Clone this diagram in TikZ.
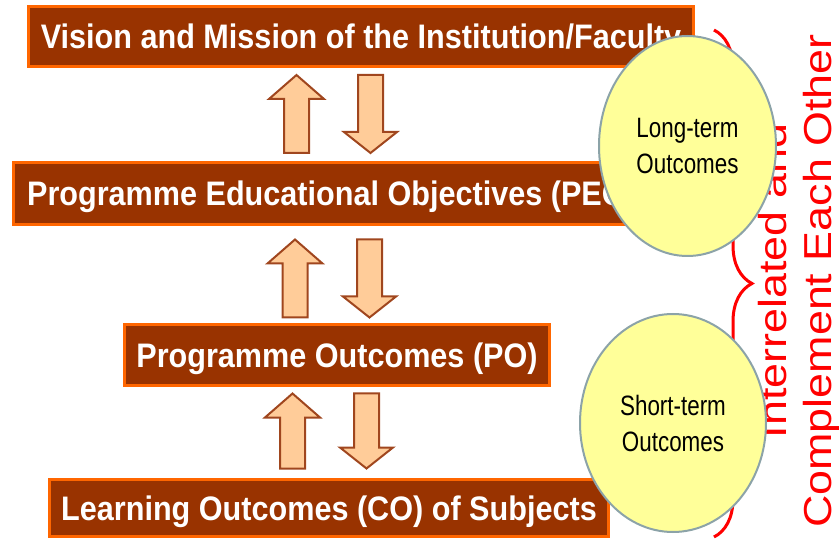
\documentclass[tikz,border=0pt]{standalone}
\usepackage{fontspec}
\setmainfont{Liberation Sans}
\newfontfamily\boxfont[FakeStretch=0.9]{Liberation Sans}
\newfontfamily\ovalfont[FakeStretch=0.8]{Liberation Sans}
\newfontfamily\sidefont[FakeStretch=1.15]{Liberation Sans}
\usepackage{tikz}
\usetikzlibrary{shapes.geometric}
\usetikzlibrary{decorations.pathreplacing}
\definecolor{boxfill}{HTML}{993300}
\definecolor{boxline}{HTML}{FF6600}
\definecolor{arrowfill}{HTML}{FFCC99}
\definecolor{arrowline}{HTML}{A0461E}
\definecolor{ovalfill}{HTML}{FFFF99}
\definecolor{ovalline}{HTML}{8CA3A8}
\tikzset{my_box/.style={rectangle, fill=boxfill, draw=boxline, line width=3pt, text=white, inner sep=0pt, text height=24.5pt, text depth=0pt, font=\boxfont\bfseries\fontsize{34}{40}\selectfont}}
\tikzset{my_oval/.style={ellipse, fill=ovalfill, draw=ovalline, line width=2pt, inner sep=0pt, align=center, font=\ovalfont\fontsize{28}{36}\selectfont}}
\tikzset{my_block/.style={fill=arrowfill, draw=arrowline, line width=2pt, line join=miter}}
\tikzset{my_brace/.style={draw=red, line width=3pt, decorate, decoration={brace, amplitude=38pt}}}
\tikzset{my_note/.style={text=red, rotate=90, align=center, inner sep=0pt, font=\sidefont\fontsize{39}{45}\selectfont}}
\newcommand{\liftarrow}[2]{\draw[my_block] ([xshift=-12.5pt]#1) -- ([xshift=-12.5pt,yshift=-24pt]#2) -- ([xshift=-27.5pt,yshift=-24pt]#2) -- (#2) -- ([xshift=27.5pt,yshift=-24pt]#2) -- ([xshift=12.5pt,yshift=-24pt]#2) -- ([xshift=12.5pt]#1) -- cycle;}
\newcommand{\droparrow}[2]{\draw[my_block] ([xshift=-12.5pt]#1) -- ([xshift=-12.5pt,yshift=21pt]#2) -- ([xshift=-26.5pt,yshift=21pt]#2) -- (#2) -- ([xshift=26.5pt,yshift=21pt]#2) -- ([xshift=12.5pt,yshift=21pt]#2) -- ([xshift=12.5pt]#1) -- cycle;}

\begin{document}
\begin{tikzpicture}[x=1pt,y=-1pt]
    %\draw[help lines,step=20] (0,0) grid (839,540);
    \useasboundingbox (0,0) rectangle (839,540);
    \node[my_box, minimum width=665pt, minimum height=60pt] (vm) at (361,36.5) {Vision and Mission of the Institution/Faculty};
    \node[my_box, minimum width=636pt, minimum height=62pt] (peo) at (331.5,193.5) {Programme Educational Objectives (PEO)};
    \node[my_box, minimum width=425pt, minimum height=61pt] (po) at (337,355) {Programme Outcomes (PO)};
    \node[my_box, minimum width=559pt, minimum height=57pt] (lo) at (329,508) {Learning Outcomes (CO) of Subjects};

    % arrow columns
    \coordinate (upA) at (296.5,0);
    \coordinate (dnA) at (370.5,0);
    \coordinate (upB) at (295,0);
    \coordinate (dnB) at (369.5,0);
    \coordinate (upC) at (292.5,0);
    \coordinate (dnC) at (366.5,0);

    \path (peo.north -| upA) ++(0,-8) coordinate (ua1)
          (vm.south -| upA) ++(0,7) coordinate (ua2)
          (vm.south -| dnA) ++(0,7) coordinate (da1)
          (peo.north -| dnA) ++(0,-8) coordinate (da2);
    \path (po.north -| upB) ++(0,-5.5) coordinate (ub1)
          (peo.south -| upB) ++(0,13.5) coordinate (ub2)
          (peo.south -| dnB) ++(0,13.5) coordinate (db1)
          (po.north -| dnB) ++(0,-5.5) coordinate (db2);
    \path (lo.north -| upC) ++(0,-9.5) coordinate (uc1)
          (po.south -| upC) ++(0,6.5) coordinate (uc2)
          (po.south -| dnC) ++(0,6.5) coordinate (dc1)
          (lo.north -| dnC) ++(0,-9.5) coordinate (dc2);

    \liftarrow{ua1}{ua2}
    \droparrow{da1}{da2}
    \liftarrow{ub1}{ub2}
    \droparrow{db1}{db2}
    \liftarrow{uc1}{uc2}
    \droparrow{dc1}{dc2}

    \draw[my_brace] (714,30) -- (714,537);
    \node[my_note] (note) at (799,281) {Interrelated and\\Complement Each Other};

    \node[my_oval, minimum width=177pt, minimum height=220pt] (long) at (687.5,146) {Long-term\\Outcomes};
    \node[my_oval, minimum width=186pt, minimum height=218pt] (short) at (673,423) {Short-term\\Outcomes};
\end{tikzpicture}
\end{document}
